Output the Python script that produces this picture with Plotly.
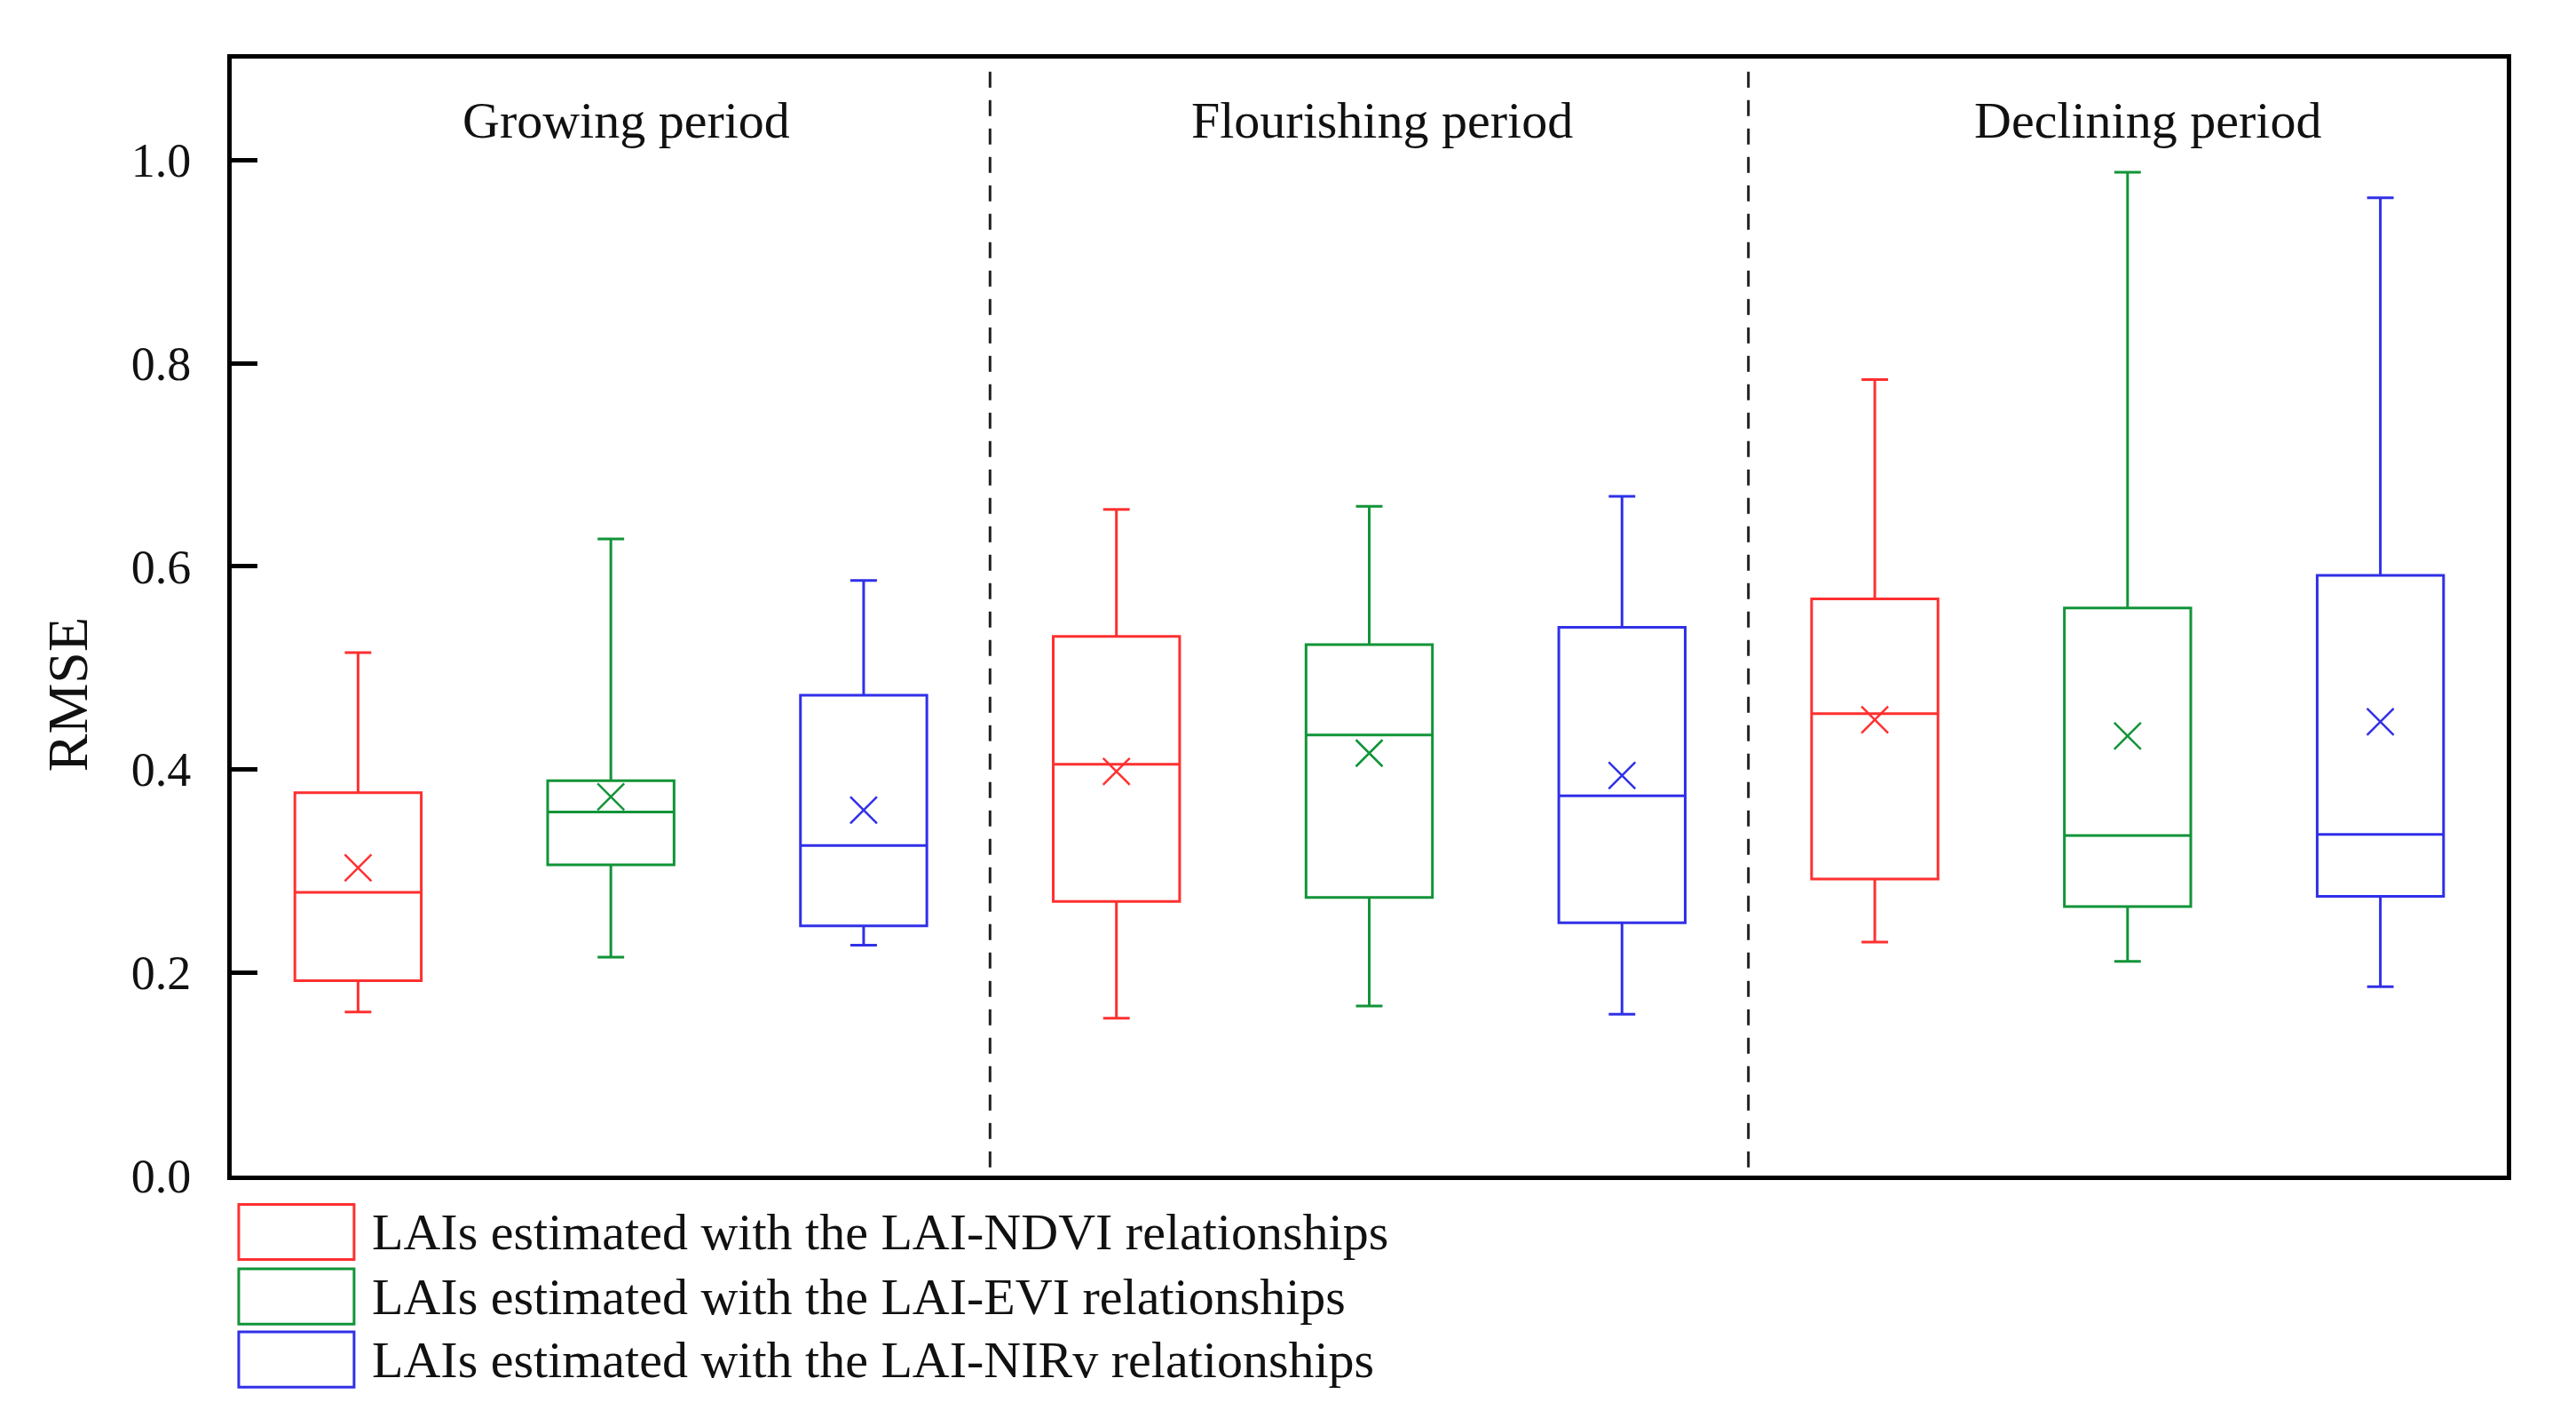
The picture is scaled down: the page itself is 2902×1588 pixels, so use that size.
import plotly.graph_objects as go

# ---------------- data ----------------
periods = ["Growing period", "Flourishing period", "Declining period"]
series_names = [
    "LAIs estimated with the LAI-NDVI relationships",
    "LAIs estimated with the LAI-EVI relationships",
    "LAIs estimated with the LAI-NIRv relationships",
]
series_colors = ["#FF3030", "#119438", "#3030E8"]

ndvi_upper = [0.515, 0.656, 0.784]
ndvi_q3 = [0.377, 0.531, 0.568]
ndvi_median = [0.279, 0.405, 0.455]
ndvi_q1 = [0.192, 0.270, 0.292]
ndvi_lower = [0.161, 0.155, 0.230]
ndvi_mean = [0.303, 0.398, 0.449]

evi_upper = [0.627, 0.659, 0.988]
evi_q3 = [0.389, 0.523, 0.559]
evi_median = [0.358, 0.434, 0.335]
evi_q1 = [0.306, 0.274, 0.265]
evi_lower = [0.215, 0.167, 0.211]
evi_mean = [0.373, 0.416, 0.433]

nirv_upper = [0.586, 0.669, 0.963]
nirv_q3 = [0.473, 0.540, 0.591]
nirv_median = [0.325, 0.374, 0.336]
nirv_q1 = [0.246, 0.249, 0.275]
nirv_lower = [0.227, 0.159, 0.186]
nirv_mean = [0.360, 0.394, 0.447]

y_ticks = [0.0, 0.2, 0.4, 0.6, 0.8, 1.0]
y_tick_labels = ["0.0", "0.2", "0.4", "0.6", "0.8", "1.0"]

stats = [
    (ndvi_lower, ndvi_q1, ndvi_median, ndvi_q3, ndvi_upper, ndvi_mean),
    (evi_lower, evi_q1, evi_median, evi_q3, evi_upper, evi_mean),
    (nirv_lower, nirv_q1, nirv_median, nirv_q3, nirv_upper, nirv_mean),
]

FONT = "Liberation Serif"
n_series = len(series_names)
n_periods = len(periods)

fig = go.Figure()

for s, (lo, q1, med, q3, hi, mean) in enumerate(stats):
    xs = [p * n_series + s + 0.5 for p in range(n_periods)]
    fig.add_trace(go.Box(
        x=xs, q1=q1, median=med, q3=q3, lowerfence=lo, upperfence=hi,
        width=0.5, whiskerwidth=0.21,
        line=dict(color=series_colors[s], width=3),
        fillcolor="rgba(0,0,0,0)",
        boxpoints=False, name=series_names[s], showlegend=False,
    ))
    fig.add_trace(go.Scatter(
        x=xs, y=mean, mode="markers",
        marker=dict(symbol="x-thin-open", size=30, color=series_colors[s],
                    line=dict(color=series_colors[s], width=2.5)),
        showlegend=False, hoverinfo="skip",
    ))

# dashed separators between periods
for p in range(1, n_periods):
    fig.add_shape(type="line", xref="x", yref="y",
                  x0=p * n_series, x1=p * n_series, y0=1.087, y1=0,
                  line=dict(color="#222222", width=3, dash="18px,14px"))

# period labels
period_x = [1.56, 4.55, 7.58]
for p, name in enumerate(periods):
    fig.add_annotation(x=period_x[p], y=0.945, xref="x", yref="paper",
                       text=name, showarrow=False, xanchor="center", yanchor="middle",
                       font=dict(family=FONT, size=58, color="#111111"))

# y axis title
fig.add_annotation(x=-0.072, y=0.431, xref="paper", yref="paper",
                   text="RMSE", textangle=-90, showarrow=False,
                   xanchor="center", yanchor="middle",
                   font=dict(family=FONT, size=64, color="#111111"))

# custom legend
row_y = [-0.0505, -0.1082, -0.1646]
for s in range(n_series):
    fig.add_shape(type="rect", xref="paper", yref="paper",
                  x0=0.0031, x1=0.0538, y0=row_y[s] + 0.0247, y1=row_y[s] - 0.0247,
                  line=dict(color=series_colors[s], width=3), fillcolor="rgba(0,0,0,0)")
    fig.add_annotation(x=0.0609, y=row_y[s], xref="paper", yref="paper",
                       text=series_names[s], showarrow=False,
                       xanchor="left", yanchor="middle",
                       font=dict(family=FONT, size=58, color="#111111"))

fig.update_layout(
    width=2902, height=1588,
    margin=dict(l=253, r=86, t=58, b=272, pad=0),
    paper_bgcolor="white", plot_bgcolor="white",
    boxmode="overlay", showlegend=False,
    font=dict(family=FONT, color="#111111"),
)
fig.update_xaxes(range=[0, 9], showticklabels=False, ticks="", showgrid=False,
                 zeroline=False, showline=True, mirror=True,
                 linecolor="black", linewidth=5)
fig.update_yaxes(range=[0, 1.1], tickvals=y_ticks, ticktext=y_tick_labels,
                 ticks="inside", ticklen=29, tickwidth=5, tickcolor="black",
                 ticklabelstandoff=30,
                 tickfont=dict(family=FONT, size=54, color="#111111"),
                 showgrid=False, zeroline=False, showline=True, mirror=True,
                 linecolor="black", linewidth=5)

fig.write_html("out.html")
